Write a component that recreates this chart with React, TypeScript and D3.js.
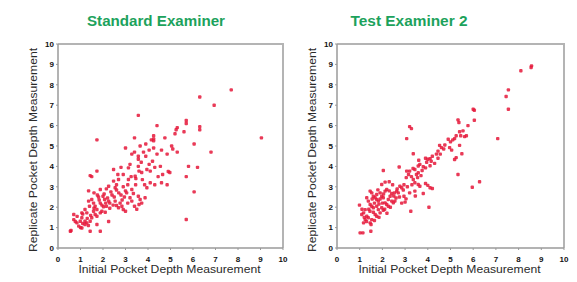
import React from "react";
import * as d3 from "d3";

// values (initial, replicate)
const standardExaminer: [number, number][] = [
  [7.7,7.75],[6.94,7.0],[6.3,7.4],[9.04,5.4],[6.8,4.7],[5.7,6.25],[5.7,6.1],[6.3,5.95],[6.3,5.8],[6.05,5.1],
  [5.8,4.0],[5.7,3.5],[6.2,3.95],[6.05,2.75],[5.7,1.4],[3.57,6.5],[1.73,5.3],[5.3,5.9],[5.25,5.8],[5.2,5.6],
  [5.6,5.7],[4.75,5.4],[4.4,6.0],[4.25,5.5],[4.25,5.35],[4.15,5.3],[3.4,5.4],[5.05,5.0],[5.1,4.85],[4.85,4.6],
  [5.3,4.7],[4.25,4.9],[3.0,4.9],[3.28,4.6],[3.4,4.7],[3.65,5.0],[3.8,4.7],[3.57,4.5],[3.57,4.35],[3.7,4.2],
  [3.9,4.5],[4.05,4.1],[4.2,4.25],[4.3,3.95],[4.9,3.75],[4.97,3.7],[4.45,3.5],[4.6,3.2],[4.85,3.1],[3.95,2.95],
  [3.95,3.85],[4.1,3.77],[3.72,3.7],[3.57,4.0],[3.6,3.77],[3.43,3.52],[3.46,3.4],[3.25,3.5],[3.13,3.93],[2.8,3.95],
  [2.47,3.85],[2.66,3.6],[3.13,3.36],[3.1,3.1],[2.69,3.36],[2.47,3.28],[1.5,3.5],[1.43,3.55],[1.73,3.77],[1.36,2.8],
  [1.88,2.87],[2.25,3.03],[2.54,2.95],[2.6,2.84],[2.7,2.7],[2.9,3.0],[3.0,2.8],[3.05,2.7],[3.28,2.87],[3.35,2.67],
  [3.45,3.1],[3.2,2.46],[3.28,2.3],[3.57,2.54],[3.65,2.38],[3.72,2.2],[3.6,2.13],[3.87,2.46],[2.76,2.2],[2.84,2.05],
  [2.9,1.89],[3.0,1.8],[2.54,2.3],[2.6,2.08],[2.69,1.97],[2.25,2.3],[2.3,2.2],[2.0,2.54],[2.07,2.38],[1.8,2.5],
  [1.83,2.35],[1.88,2.2],[1.95,2.1],[2.02,2.02],[2.12,2.2],[2.15,2.05],[1.75,2.6],[1.5,2.38],[1.58,2.2],[1.65,2.05],
  [1.73,1.89],[1.36,2.3],[1.4,2.05],[1.2,1.89],[1.28,1.72],[1.58,1.8],[1.65,1.64],[1.73,1.56],[1.88,1.72],[1.95,1.8],
  [2.25,1.3],[1.73,1.15],[1.88,0.82],[1.43,0.82],[0.55,0.82],[0.58,0.86],[0.7,1.64],[1.06,1.72],[1.1,1.66],[0.77,1.3],
  [0.84,1.23],[0.99,1.31],[1.06,1.48],[1.2,1.31],[1.28,1.23],[0.92,1.07],[1.06,0.98],[1.2,1.15],[1.43,1.31],[1.5,1.48],
  [0.7,1.39],[2.4,2.6],[2.35,2.75],[2.8,2.6],[2.95,2.5],[2.5,2.5],[2.2,2.45],[2.45,2.1],[2.1,1.75],[2.3,1.95],
  [1.6,1.95],[1.45,1.6],[1.3,1.45],[1.1,1.2],[1.0,1.0],[0.85,1.55],[1.35,1.1],[2.05,2.65],[2.85,2.35],[3.1,2.2],
  [3.4,2.05],[3.5,1.9],[4.1,3.2],[4.3,3.1],[4.65,3.6],[4.55,4.0],[4.4,4.6],[4.6,4.8],[4.05,4.8],[3.9,5.1],
  [3.2,4.1],[2.9,3.6],[2.6,3.1],[2.15,2.9],[1.6,2.7],[3.75,3.35],[3.85,3.1],[4.25,5.25],
];

const testExaminer2: [number, number][] = [
  [8.57,8.93],[8.55,8.85],[8.1,8.69],[7.55,7.75],[7.45,7.43],[7.55,6.8],[7.08,5.36],[6.0,6.8],[6.05,6.75],[6.05,6.26],
  [5.33,6.28],[5.37,6.15],[5.77,6.0],[5.55,5.74],[5.62,5.46],[5.7,5.5],[5.25,5.5],[5.18,5.36],[4.9,5.33],[5.4,5.03],
  [5.5,4.62],[4.52,5.03],[4.6,4.92],[4.96,4.92],[4.45,4.75],[4.38,4.6],[5.25,4.43],[5.18,4.34],[5.33,3.6],[5.96,2.98],
  [6.28,3.25],[3.2,5.95],[3.28,5.85],[3.07,5.36],[3.36,4.62],[3.65,4.1],[3.58,4.02],[3.9,4.4],[4.0,4.35],[4.1,4.38],
  [3.95,4.2],[4.15,4.25],[3.8,3.98],[3.9,3.93],[4.1,4.03],[3.43,3.85],[3.58,3.69],[3.5,3.6],[3.2,3.77],[2.74,3.97],
  [3.07,3.77],[3.15,3.6],[3.05,3.45],[3.28,3.5],[3.36,3.36],[3.43,3.2],[3.58,3.11],[3.65,3.03],[3.9,3.16],[4.0,3.07],
  [4.1,2.95],[4.2,2.92],[3.8,2.67],[3.43,2.79],[3.2,2.7],[3.25,1.8],[4.05,2.0],[2.95,2.54],[3.04,2.41],[2.77,3.03],
  [2.85,2.95],[2.92,2.84],[2.63,2.79],[2.7,2.7],[2.53,2.7],[2.41,2.67],[2.19,2.87],[2.12,2.79],[2.04,3.8],[2.12,3.23],
  [1.97,3.11],[2.34,2.54],[2.26,2.38],[2.41,2.3],[2.48,2.21],[1.9,2.7],[1.97,2.54],[2.04,2.46],[1.75,2.62],[1.68,2.46],
  [1.75,2.38],[1.82,2.3],[2.12,2.21],[2.19,2.13],[2.26,2.05],[1.46,2.79],[1.53,2.7],[1.6,2.54],[1.31,2.46],[1.38,2.3],
  [1.46,2.13],[1.53,2.05],[1.6,1.97],[1.75,2.05],[1.82,1.88],[1.9,1.72],[1.97,1.97],[2.04,1.85],[1.24,1.88],[1.17,1.72],
  [1.09,1.64],[1.31,1.56],[1.38,1.48],[1.24,1.39],[1.17,1.23],[1.53,1.39],[1.46,1.23],[1.5,1.15],[0.99,2.1],[1.02,0.74],
  [1.14,0.74],[1.49,0.82],[1.68,1.64],[1.75,1.56],[2.5,2.55],[2.6,2.45],[2.3,2.8],[2.0,2.2],[1.85,2.15],[1.65,2.2],
  [1.4,1.9],[1.6,1.75],[1.3,1.3],[1.2,1.5],[1.65,1.35],[1.85,1.5],[2.2,1.7],[2.1,1.9],[2.35,2.0],[2.55,2.3],
  [2.75,2.5],[2.65,2.9],[2.95,3.1],[3.1,3.0],[3.3,3.1],[3.45,2.55],[3.0,2.25],[2.85,2.2],[3.55,3.45],[3.7,3.55],
  [3.75,3.8],[4.3,4.15],[4.2,4.5],[4.7,4.85],[4.75,5.05],[5.0,5.2],[5.1,5.3],[5.4,5.7],[5.45,5.5],[5.05,4.8],
  [4.45,4.4],[4.55,4.6],[3.6,4.3],[3.35,3.9],[2.45,3.1],[2.3,3.25],[1.8,2.85],[1.55,2.4],[1.45,1.8],[1.9,2.4],
  [2.05,2.65],[1.1,1.9],
];

const tickValues = [0, 1, 2, 3, 4, 5, 6, 7, 8, 9, 10];
const xTitle = "Initial Pocket Depth Measurement";
const yTitle = "Replicate Pocket Depth Measurement";

const W = 577, H = 282;

function Panel({ title, data, left, right, titleX, titleLen }: {
  title: string; data: [number, number][]; left: number; right: number; titleX: number; titleLen: number;
}) {
  const top = 44, bottom = 248;
  const x = d3.scaleLinear().domain([0, 10]).range([left, right]);
  const y = d3.scaleLinear().domain([0, 10]).range([bottom, top]);
  const font = "'Liberation Sans', Arial, sans-serif";
  return (
    <g>
      <text x={titleX} y={26} textAnchor="middle" fill="#1ca25c" textLength={titleLen}
        lengthAdjust="spacingAndGlyphs" style={{ font: `bold 14px ${font}` }}>{title}</text>
      {/* frame */}
      <path d={`M${left},${top}H${right}V${bottom}`} fill="none" stroke="#b4b4b4" strokeWidth={2} />
      <path d={`M${left},${top}V${bottom}H${right}`} fill="none" stroke="#9a9a9a" strokeWidth={1.5} />
      {tickValues.map(t => (
        <g key={"x" + t}>
          <line x1={x(t)} x2={x(t)} y1={bottom} y2={bottom + 2} stroke="#999" />
          <text x={x(t)} y={262} textAnchor="middle" fill="#111"
            style={{ font: `bold 8px ${font}` }}>{t}</text>
        </g>
      ))}
      {tickValues.map(t => (
        <g key={"y" + t}>
          <line x1={left - 2} x2={left} y1={y(t)} y2={y(t)} stroke="#999" />
          <text x={left - 4} y={y(t) + 2.8} textAnchor="end" fill="#111"
            style={{ font: `bold 8px ${font}` }}>{t}</text>
        </g>
      ))}
      <text x={(left + right) / 2 - 1} y={273} textAnchor="middle" fill="#2a2a2a" textLength={182}
        lengthAdjust="spacingAndGlyphs" style={{ font: `10.5px ${font}` }}>{xTitle}</text>
      <text transform={`translate(${left - 21},${(top + bottom) / 2 + 4}) rotate(-90)`} textAnchor="middle"
        fill="#2a2a2a" textLength={204} lengthAdjust="spacingAndGlyphs"
        style={{ font: `10.5px ${font}` }}>{yTitle}</text>
      {data.map((d, i) => (
        <rect key={i} x={x(d[0]) - 1.7} y={y(d[1]) - 1.7} width={3.4} height={3.4} rx={1}
          fill="#e5183a" fillOpacity={0.85} />
      ))}
    </g>
  );
}

export default function App() {
  return (
    <svg width={W} height={H} style={{ position: "absolute", left: 0, top: 0, background: "#fff" }}>
      <Panel title="Standard Examiner" data={standardExaminer} left={58} right={283} titleX={156} titleLen={138} />
      <Panel title="Test Examiner 2" data={testExaminer2} left={337} right={564} titleX={409} titleLen={117} />
    </svg>
  );
}
